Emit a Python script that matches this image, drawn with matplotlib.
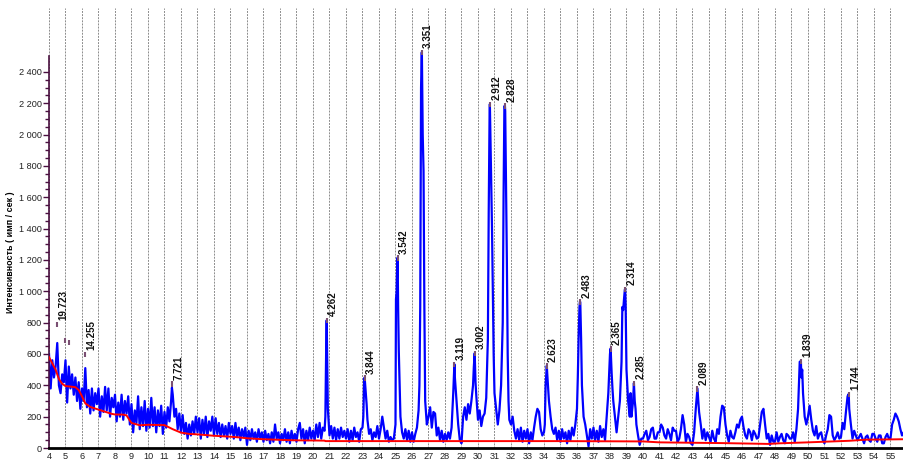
import numpy as np
import matplotlib
matplotlib.use('Agg')
import matplotlib.pyplot as plt
from matplotlib.ticker import MultipleLocator, FixedLocator, FuncFormatter

plt.rcParams['font.family'] = ['Liberation Sans', 'DejaVu Sans']

# измеренный профиль, шаг 0.1 град (4.0 ... 55.8)
counts = [
    600, 380, 560, 450, 520, 670, 400, 350, 470, 420,   # 4
    560, 290, 520, 380, 470, 340, 450, 300, 420, 250,   # 5
    380, 300, 510, 260, 370, 220, 380, 240, 350, 280,   # 6
    380, 200, 330, 230, 390, 240, 380, 200, 320, 260,   # 7
    340, 170, 290, 200, 340, 180, 300, 220, 330, 150,   # 8
    280, 100, 240, 160, 330, 120, 260, 140, 300, 110,   # 9
    250, 130, 320, 140, 260, 100, 240, 140, 270, 90,    # 10
    230, 130, 260, 170, 300, 340, 200, 250, 120, 220,   # 11
    100, 210, 90, 160, 60, 150, 80, 170, 90, 200,       # 12
    100, 190, 60, 180, 90, 200, 70, 170, 110, 200,      # 13
    80, 190, 90, 160, 70, 150, 80, 140, 60, 160,        # 14
    90, 140, 60, 160, 70, 130, 50, 120, 70, 130,        # 15
    20, 110, 50, 120, 60, 100, 40, 120, 60, 100,        # 16
    40, 110, 50, 90, 30, 100, 40, 150, 60, 100,         # 17
    30, 90, 50, 120, 40, 100, 30, 110, 50, 90,          # 18
    40, 120, 160, 60, 120, 30, 110, 50, 130, 60,        # 19
    110, 50, 150, 70, 160, 60, 130, 110, 640, 250,      # 20
    80, 140, 60, 130, 50, 120, 60, 130, 70, 110,        # 21
    60, 120, 40, 110, 50, 130, 70, 100, 40, 120,        # 22
    130, 420, 350, 180, 90, 120, 50, 100, 70, 140,      # 23
    60, 120, 200, 130, 60, 110, 40, 70, 50, 60,         # 24
    150, 1150, 620, 200, 100, 60, 120, 50, 110, 40,     # 25
    100, 40, 90, 130, 240, 900, 2520, 1770, 300, 150,   # 26
    200, 260, 130, 230, 220, 80, 130, 50, 110, 40,      # 27
    90, 50, 100, 60, 130, 350, 450, 300, 150, 50,       # 28
    30, 200, 260, 180, 280, 220, 300, 400, 605, 330,    # 29
    180, 240, 140, 200, 220, 320, 700, 2100, 1700, 1000,  # 30
    350, 250, 150, 240, 400, 800, 2180, 1700, 600, 180,   # 31
    150, 200, 110, 60, 120, 50, 130, 40, 110, 60,       # 32
    120, 30, 100, 50, 130, 200, 250, 230, 120, 80,      # 33
    100, 400, 470, 300, 200, 120, 90, 130, 50, 110,     # 34
    40, 120, 60, 100, 30, 110, 50, 130, 80, 150,        # 35
    250, 700, 930, 400, 200, 150, 80, 10, 120, 60,      # 36
    130, 50, 110, 40, 140, 70, 120, 50, 200, 350,       # 37
    600, 480, 300, 200, 100, 200, 300, 550, 880, 1010,  # 38
    500, 300, 200, 200, 300, 300, 150, 80, 20, 60,      # 39
    60, 90, 110, 50, 70, 120, 130, 60, 60, 100,         # 40
    100, 150, 130, 80, 60, 120, 90, 50, 130, 110,       # 41
    110, 40, 60, 120, 210, 150, 40, 90, 70, 30,         # 42
    20, 100, 250, 380, 230, 150, 60, 120, 50, 100,      # 43
    70, 40, 110, 60, 40, 120, 90, 200, 270, 260,        # 44
    150, 80, 40, 110, 70, 60, 100, 150, 130, 180,       # 45
    200, 130, 80, 60, 120, 100, 50, 110, 90, 60,        # 46
    70, 150, 230, 250, 150, 60, 90, 20, 80, 40,         # 47
    40, 100, 40, 70, 90, 50, 30, 90, 80, 60,            # 48
    60, 100, 40, 120, 250, 550, 450, 350, 200, 150,     # 49
    200, 270, 180, 110, 80, 140, 60, 90, 100, 50,       # 50
    30, 80, 120, 210, 200, 80, 50, 70, 100, 60,         # 51
    70, 160, 120, 230, 330, 250, 150, 60, 110, 80,      # 52
    50, 70, 90, 60, 30, 70, 80, 50, 40, 90,             # 53
    90, 60, 40, 80, 80, 30, 30, 70, 90, 60,             # 54
    60, 150, 180, 220, 200, 170, 120, 80, 100,          # 55
]
two_theta = np.round(np.arange(4.0, 55.85, 0.1), 2)

# дополнительные точки на вершинах пиков
peak_x = [11.45, 20.75, 20.83, 20.87, 23.05, 23.13, 23.25, 25.03, 25.07, 25.13, 25.16, 25.25,
          26.45, 26.55, 26.59, 26.65, 26.75, 28.57, 29.75, 29.85,
          30.65, 30.72, 30.75, 30.85, 30.95, 31.55, 31.63, 31.65, 31.75, 31.85,
          34.05, 34.17, 36.05, 36.15, 36.18, 36.25, 38.04, 38.15, 38.75, 38.85, 38.92, 38.95,
          39.25, 39.45, 39.55, 49.45, 49.57, 49.65, 52.47]
peak_y = [385, 200, 815, 500, 200, 450, 280, 950, 1000, 1215, 900, 400,
          400, 2300, 2525, 2000, 900, 535, 520, 420,
          1500, 2195, 2010, 1400, 600, 1600, 2185, 2150, 1200, 300,
          150, 525, 450, 900, 935, 700, 635, 380, 900, 950, 1015, 900,
          350, 415, 250, 400, 555, 500, 345]

# фон
bg_x = [4.0, 4.2, 4.4, 4.6, 4.8, 5.0, 5.3, 5.6, 5.8, 6.0, 6.2, 6.5, 7.0, 7.5, 7.8, 8.0, 8.5, 8.7,
        8.9, 9.0, 9.5, 10.0, 11.0, 11.5, 12.0, 12.5, 13.0, 14.0, 15.0, 15.5, 16.0, 16.5, 17.0,
        18.0, 19.0, 20.0, 20.7, 20.75, 25.0, 30.0, 35.0, 40.0, 41.0, 45.0, 47.6, 48.3, 50.0,
        52.5, 53.5, 55.8]
bg_y = [580, 540, 500, 440, 410, 395, 392, 388, 370, 330, 285, 262, 245, 228, 218, 214, 213, 208,
        175, 160, 145, 148, 146, 120, 98, 90, 87, 78, 72, 68, 62, 59, 56,
        52, 49, 48, 47, 44, 44, 44, 44, 42, 36, 31, 26, 30, 36,
        46, 53, 56]

# межплоскостные расстояния
d_labels = ['19.723', '14.255', '7.721', '4.262', '3.844', '3.542', '3.351', '3.119', '3.002',
            '2.912', '2.828', '2.623', '2.483', '2.365', '2.314', '2.285', '2.089', '1.839', '1.744']
d_pos = [4.48, 6.20, 11.45, 20.83, 23.13, 25.13, 26.59, 28.57, 29.80, 30.72, 31.63, 34.17,
         36.18, 38.04, 38.92, 39.45, 43.30, 49.57, 52.47]
d_height = [790, 600, 410, 815, 450, 1215, 2525, 535, 605, 2195, 2185, 525, 935, 635, 1015,
            415, 380, 555, 345]
extra_x = [4.95, 5.2]
extra_h = [690, 676]

x_all = np.concatenate([two_theta, peak_x])
y_all = np.concatenate([counts, peak_y])
order = np.argsort(x_all, kind='stable')
x_all, y_all = x_all[order], y_all[order]

fig = plt.figure(figsize=(9.04, 4.66), dpi=100)
ax = fig.add_axes([49/904, 18/466, 855/904, 440/466])

for g in range(4, 56):
    ax.axvline(g, color='#8c8c8c', lw=0.7, ls=(0, (2, 1.2)), zorder=0)

ax.plot(x_all, y_all, color='#0000ff', lw=1.6, zorder=2)
ax.plot(bg_x, bg_y, color='#ff0000', lw=1.4, zorder=3)

mark_c = '#7a4f72'
ax.vlines(d_pos, np.array(d_height) - 20, np.array(d_height) + 15, color=mark_c, lw=1.5, zorder=4)
ax.vlines(extra_x, np.array(extra_h) - 20, np.array(extra_h) + 15, color=mark_c, lw=1.5, zorder=4)
for lab, x, h in zip(d_labels, d_pos, d_height):
    ax.text(x + 0.38, h + 25, lab, rotation=90, ha='center', va='bottom',
            fontsize=7, fontweight='bold', color='#111111')

ax.set_xlim(4, 55.82)
ax.set_ylim(0, 2808)

ax.spines['top'].set_visible(False)
ax.spines['right'].set_visible(False)
ax.spines['left'].set_bounds(0, 2500)
ax.spines['left'].set_color('#4a1040')
ax.spines['left'].set_linewidth(1.2)
ax.spines['bottom'].set_color('black')
ax.spines['bottom'].set_linewidth(2)

ax.xaxis.set_major_locator(MultipleLocator(1))
ax.tick_params(axis='x', length=0, pad=3, labelsize=6.6, labelcolor='#222222')
ax.yaxis.set_major_locator(FixedLocator(np.arange(0, 2401, 200)))
ax.yaxis.set_minor_locator(FixedLocator(np.arange(0, 2401, 50)))
ax.yaxis.set_major_formatter(FuncFormatter(lambda v, p: '{:,}'.format(int(v)).replace(',', ' ')))
ax.tick_params(axis='y', which='major', length=4, width=1, color='#4a1040', pad=1,
               labelsize=6.6, labelcolor='#222222')
ax.tick_params(axis='y', which='minor', length=3, width=1, color='#4a1040')

ax.set_ylabel('Интенсивность ( имп / сек )', fontsize=6.4, fontweight='bold')
ax.yaxis.set_label_coords(-0.04, 0.444)

fig.savefig('out.png', dpi=100)
